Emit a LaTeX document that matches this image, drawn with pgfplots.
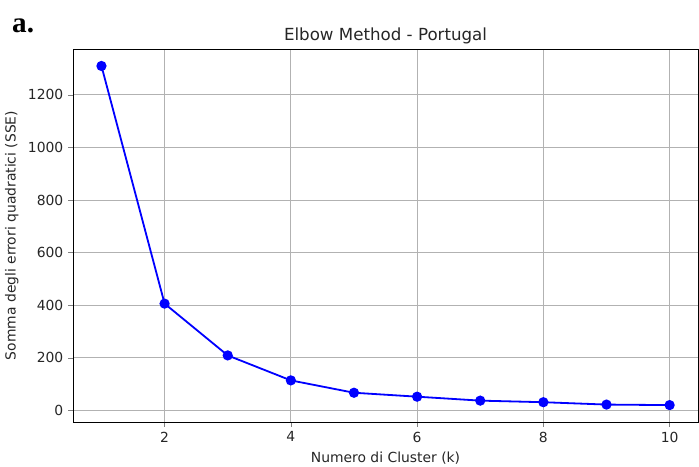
\documentclass[border=0pt]{standalone}
\usepackage{pgfplots}
\pgfplotsset{compat=1.18}
\usepackage{fontspec}
\setmainfont{DejaVu Sans}
\newfontfamily\serifbf{Liberation Serif}
\begin{document}
\begin{tikzpicture}
\begin{axis}[
  name=ax,
  scale only axis,
  width=450pt, height=268.6pt,
  xmin=0.55, xmax=10.45,
  ymin=-44.5, ymax=1374.5,
  xtick={2,4,6,8,10},
  ytick={0,200,400,600,800,1000,1200},
  /pgf/number format/assume math mode=true,
  /pgf/number format/1000 sep={},
  tick label style={font=\fontsize{10}{12}\selectfont, text=black!85},
  tick align=outside,
  tick pos=left,
  major tick length=3.5pt,
  axis line style={black, line width=0.6pt},
  grid=major,
  major grid style={color=black!30, line width=0.6pt},
  title={Elbow Method - Portugal},
  title style={font=\fontsize{12}{14}\selectfont, text=black!85, at={(0.5,1)}, anchor=base, yshift=0pt},
  xlabel={Numero di Cluster (k)},
  ylabel={Somma degli errori quadratici (SSE)},
  label style={font=\fontsize{10}{12}\selectfont, text=black!85},
  clip=false,
]
\addplot[color=blue, line width=1.3pt, mark=*, mark size=3pt, mark options={fill=blue, draw=blue}]
coordinates {
(1,1310) (2,406) (3,209) (4,114) (5,67) (6,52) (7,37) (8,31) (9,22) (10,20)
};
\end{axis}
\node[anchor=base west, inner sep=0pt, font=\serifbf\bfseries\fontsize{21}{23}\selectfont] at ([shift={(-44pt,12.2pt)}]ax.north west) {a.};
\pgfresetboundingbox
\path ([shift={(-52.6pt,-31.7pt)}]ax.south west) rectangle ([shift={(0.7pt,35.3pt)}]ax.north east);
\end{tikzpicture}
\end{document}
